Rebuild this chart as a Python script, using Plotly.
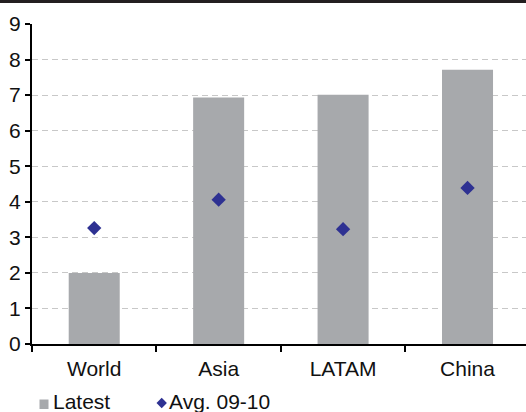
import plotly.graph_objects as go

# Regional figures: latest reading vs. 2009-10 average
regions = ["World", "Asia", "LATAM", "China"]
latest = [2.0, 6.93, 7.01, 7.71]
avg_09_10 = [3.26, 4.06, 3.23, 4.39]
y_ticks = [0, 1, 2, 3, 4, 5, 6, 7, 8, 9]

BAR_COLOR = "#A7A9AC"
DOT_COLOR = "#2E3192"

W, H = 526, 412
ML, MR, MT, MB = 32, 0, 24, 68
plot_w = W - ML - MR
plot_h = H - MT - MB


def px_x(p):
    """Pixel column -> paper x."""
    return (p - ML) / plot_w


def px_y(p):
    """Pixel row -> paper y."""
    return (H - MB - p) / plot_h


fig = go.Figure()
fig.add_trace(go.Bar(
    x=regions, y=latest, name="Latest",
    marker=dict(color=BAR_COLOR, line=dict(width=0)),
    width=0.41,
))
fig.add_trace(go.Scatter(
    x=regions, y=avg_09_10, name="Avg. 09-10", mode="markers",
    marker=dict(symbol="diamond", size=11, color=DOT_COLOR, line=dict(width=0)),
))

font = "Liberation Sans, Arial, sans-serif"

fig.update_layout(
    width=W, height=H,
    margin=dict(l=ML, r=MR, t=MT, b=MB, pad=0),
    paper_bgcolor="white", plot_bgcolor="white",
    font=dict(family=font, size=21, color="#111111"),
    showlegend=False,
    xaxis=dict(
        type="category", range=[-0.5, 3.47],
        showline=True, linecolor="black", linewidth=2,
        ticks="outside", tickson="boundaries", ticklen=6, tickwidth=1.5,
        tickcolor="black", showgrid=False, zeroline=False,
        tickfont=dict(size=21), ticklabelstandoff=5,
    ),
    yaxis=dict(
        range=[0, 9], tickvals=y_ticks,
        showline=True, linecolor="black", linewidth=2,
        ticks="outside", ticklen=5, tickwidth=1.5, tickcolor="black",
        showgrid=True, gridcolor="#C8C8C8", gridwidth=1, griddash="6px,4px",
        zeroline=False, tickfont=dict(size=21),
    ),
    bargap=0.59,
)

# dark rule across the top of the chart
fig.add_shape(
    type="rect", xref="paper", yref="paper",
    x0=px_x(0), x1=px_x(W + 2), y0=px_y(3), y1=px_y(-1),
    fillcolor="#231F20", line=dict(width=0), layer="above",
)

# legend row: grey square for the bars, blue diamond for the averages
fig.add_shape(
    type="rect", xref="paper", yref="paper",
    x0=px_x(39.5), x1=px_x(48.5), y0=px_y(409), y1=px_y(399.5),
    fillcolor=BAR_COLOR, line=dict(width=0),
)
cx, cy, r = 161.7, 403.0, 5.2
fig.add_shape(
    type="path", xref="paper", yref="paper",
    path=(f"M {px_x(cx - r)} {px_y(cy)} L {px_x(cx)} {px_y(cy - r)} "
          f"L {px_x(cx + r)} {px_y(cy)} L {px_x(cx)} {px_y(cy + r)} Z"),
    fillcolor=DOT_COLOR, line=dict(width=0),
)
for label, left in [("Latest", 51.5), ("Avg. 09-10", 168.0)]:
    fig.add_annotation(
        text=label, xref="paper", yref="paper",
        x=px_x(left), y=px_y(401.5), xanchor="left", yanchor="middle",
        showarrow=False, font=dict(size=21, family=font, color="#111111"),
        borderpad=0,
    )

fig.write_html("out.html")
